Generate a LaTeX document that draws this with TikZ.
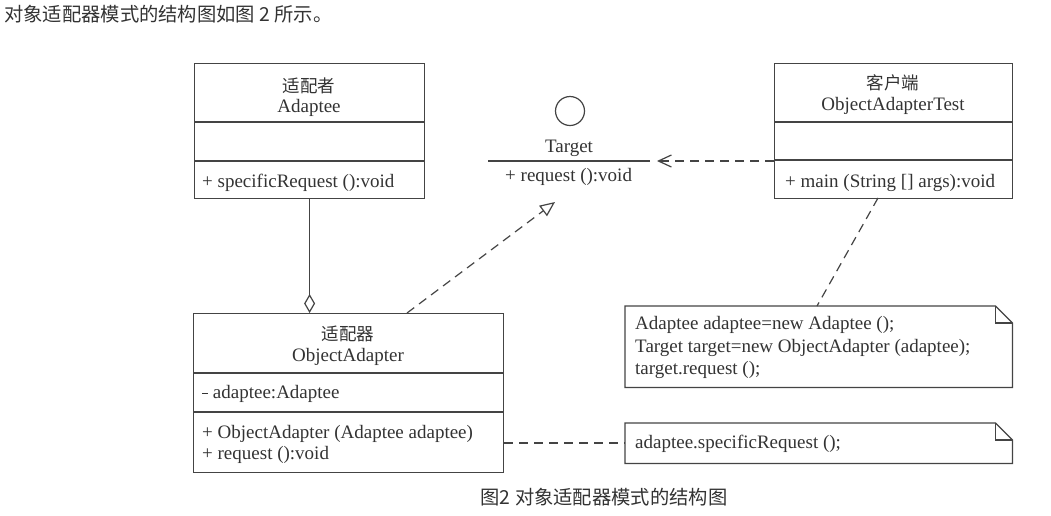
\documentclass[tikz,border=0pt]{standalone}
\usepackage{fontspec}
\setmainfont{Liberation Serif}
\newfontfamily\cjk{Noto Sans CJK SC}
\usetikzlibrary{arrows.meta,calc}
\definecolor{ink}{HTML}{333333}
\definecolor{ln}{HTML}{444444}
\begin{document}
\begin{tikzpicture}[x=1pt,y=-1pt,
  box/.style={draw=ln,line width=1.2pt,inner sep=0pt,anchor=north west},
  txt/.style={text=ink,inner sep=0pt,anchor=base,font=\fontsize{19}{22}\selectfont},
  ltxt/.style={txt,anchor=base west},
  ctxt/.style={txt,font=\cjk\fontsize{17.5}{20}\selectfont},
  conn/.style={draw=ln,line width=1.2pt},
  dsh/.style={conn,dash pattern=on 9pt off 6pt},
  divl/.style={draw=ln,line width=1.2pt}]
\useasboundingbox[fill=white] (0,0) rectangle (1051,515);

% header and caption
\node[anchor=base west,inner sep=0pt,text=ink,font=\cjk\fontsize{19.3}{22}\selectfont] (head) at (4,21) {对象适配器模式的结构图如图 2 所示。};
\node[anchor=base,inner sep=0pt,text=ink,font=\cjk\fontsize{19.3}{22}\selectfont] (cap) at (604,504) {图2 对象适配器模式的结构图};

% Adaptee
\node[box,minimum width=230pt,minimum height=135pt] (adaptee) at (194,63) {};
\draw[divl] (194,122) -- (424,122);
\draw[divl] (194,161) -- (424,161);
\node[ctxt] (a1) at (309,92) {适配者};
\node[txt] (a2) at (309,112) {Adaptee};
\node[ltxt] (a3) at (202,187) {+ specificRequest ():void};

% Target interface
\node[draw=ln,line width=1.2pt,circle,minimum size=29pt,inner sep=0pt] (tc) at (570,111) {};
\node[txt] (t1) at (569,152) {Target};
\draw[divl] (488,161) -- (650,161);
\coordinate (tline) at (650,161);
\coordinate (ttri) at (555,202);
\node[ltxt] (t2) at (505,181) {+ request ():void};

% Client
\node[box,minimum width=238pt,minimum height=135pt] (client) at (774,63) {};
\draw[divl] (774,122) -- (1012,122);
\draw[divl] (774,160) -- (1012,160);
\node[ctxt] (c1) at (893,89) {客户端};
\node[txt] (c2) at (893,110) {ObjectAdapterTest};
\node[ltxt] (c3) at (785,187) {+ main (String [] args):void};

% ObjectAdapter
\node[box,minimum width=310pt,minimum height=159pt] (oa) at (193,313) {};
\draw[divl] (193,373) -- (503,373);
\draw[divl] (193,412) -- (503,412);
\node[ctxt] (o1) at (348,340) {适配器};
\node[txt] (o2) at (348,361) {ObjectAdapter};
\node[ltxt] (o3) at (202,398) {\raisebox{0.5ex}{\rule{6pt}{0.9pt}} adaptee:Adaptee};
\node[ltxt] (o4) at (202,438) {+ ObjectAdapter (Adaptee adaptee)};
\node[ltxt] (o5) at (202,459) {+ request ():void};

% Notes
\node[inner sep=0pt,minimum width=387pt,minimum height=81pt,anchor=north west] (note1) at (625,306) {};
\draw[conn] (note1.north west) -- ($(note1.north east)+(-17,0)$) -- ($(note1.north east)+(0,17)$) -- (note1.south east) -- (note1.south west) -- cycle;
\draw[conn] ($(note1.north east)+(-17,0)$) -- ($(note1.north east)+(-17,17)$) -- ($(note1.north east)+(0,17)$);
\node[ltxt] (n11) at (635,329) {Adaptee adaptee=new Adaptee ();};
\node[ltxt] (n12) at (635,352) {Target target=new ObjectAdapter (adaptee);};
\node[ltxt] (n13) at (635,374) {target.request ();};

\node[inner sep=0pt,minimum width=387pt,minimum height=40pt,anchor=north west] (note2) at (625,423) {};
\draw[conn] (note2.north west) -- ($(note2.north east)+(-17,0)$) -- ($(note2.north east)+(0,17)$) -- (note2.south east) -- (note2.south west) -- cycle;
\draw[conn] ($(note2.north east)+(-17,0)$) -- ($(note2.north east)+(-17,17)$) -- ($(note2.north east)+(0,17)$);
\node[ltxt] (n21) at (635,448) {adaptee.specificRequest ();};

% Connectors
\draw[conn,-{Diamond[open,length=19pt,width=11pt,line width=1.2pt]}] (adaptee.south) -- (adaptee.south |- oa.north);
\coordinate (oatop) at (407,313);
\draw[dsh,-{Triangle[open,length=15pt,width=13pt,line width=1.2pt]}] (oatop) -- (ttri);
\coordinate (cl) at (client.west |- tline);
\draw[dsh,-{Straight Barb[length=13pt,width=12pt,line width=1.2pt]}] (cl) -- ($(tline)+(7,0)$);
\coordinate (cb) at (878,198);
\coordinate (n1t) at (817,306);
\draw[dsh] (cb) -- (n1t);
\coordinate (oar) at (oa.east |- 0,443);
\draw[dsh] (oar) -- (note2.west |- oar);
\end{tikzpicture}
\end{document}
